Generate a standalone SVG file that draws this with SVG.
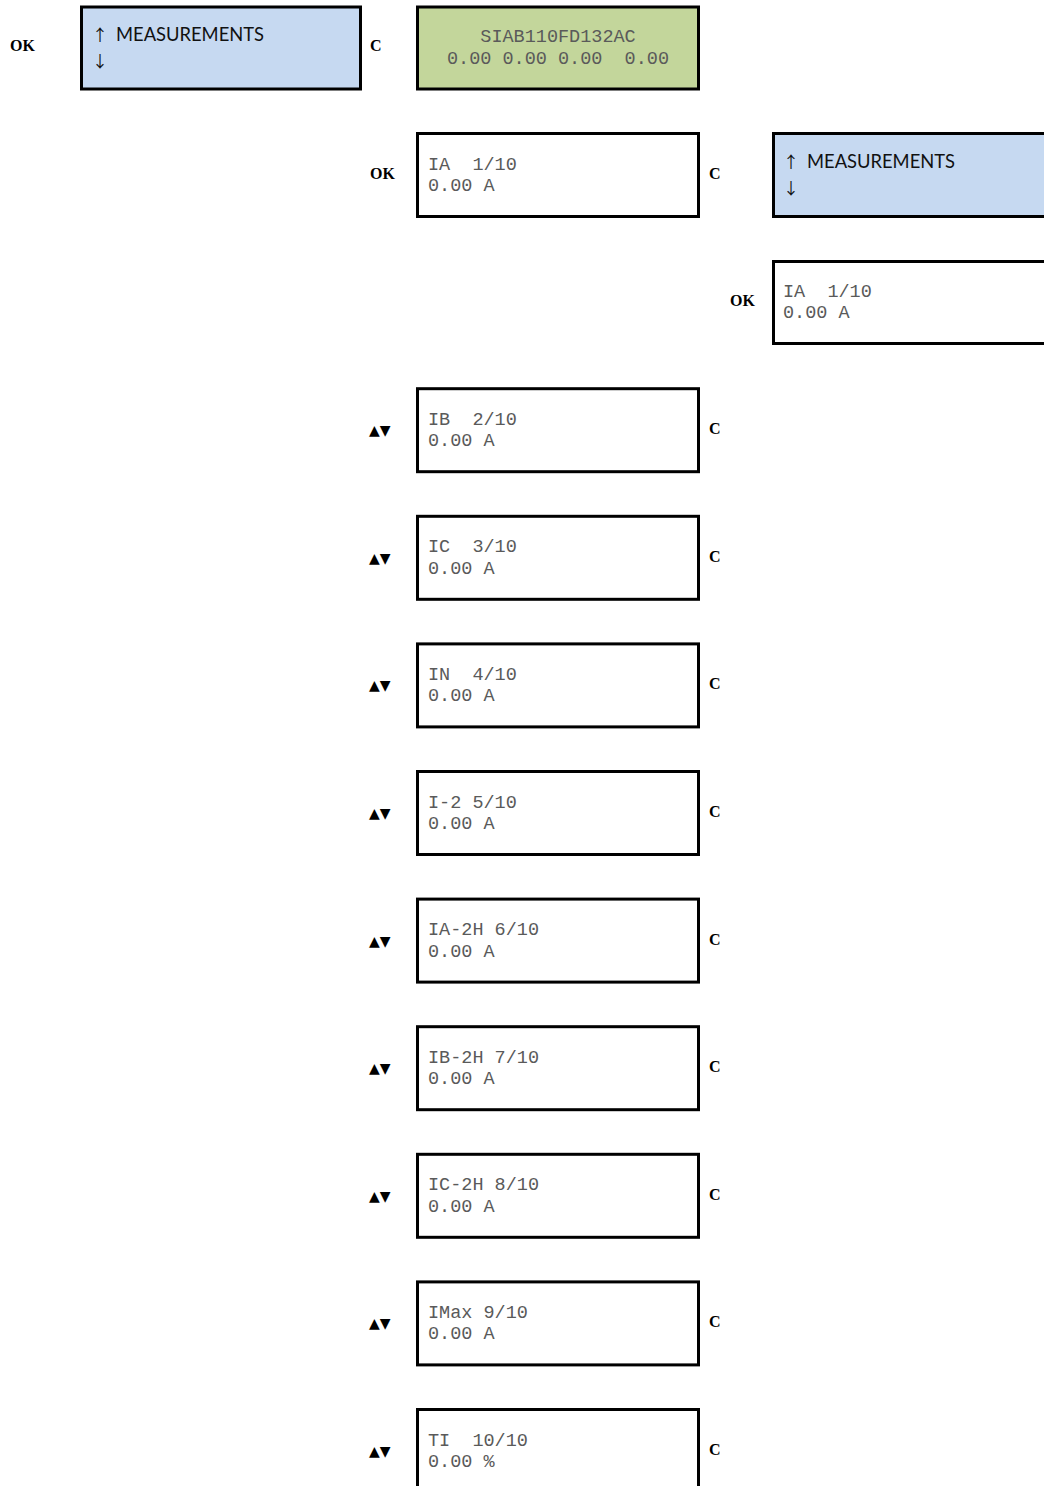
<svg xmlns="http://www.w3.org/2000/svg" width="1044" height="1486" viewBox="0 0 1044 1486">
<style>
.box{fill:#fff;stroke:#000;stroke-width:3}
.blue{fill:#c6d9f1;stroke:#000;stroke-width:3}
.green{fill:#c3d69b;stroke:#000;stroke-width:3}
.lcd{font-family:"Liberation Mono","Courier New",monospace;font-size:18.5px;fill:#5a5a5a}
.menu{font-family:Lato,"Open Sans",sans-serif;font-size:19px;fill:#111}
.arr{font-family:"Noto Sans CJK SC","DejaVu Sans",sans-serif;font-size:16px;fill:#111}
.key{font-family:"Liberation Serif","Times New Roman",serif;font-size:16px;font-weight:bold;fill:#000}
.tri{font-family:"DejaVu Sans",sans-serif;font-size:14px;fill:#000}
</style>
<rect width="1044" height="1486" fill="#fff"/>
<g id="connectors"/>
<g id="main-menu">
<text class="key" x="10" y="51">OK</text>
<rect class="blue" x="81.5" y="7" width="279" height="82"/>
<text class="arr" x="92" y="41">↑</text>
<text class="menu" x="116" y="41" textLength="148" lengthAdjust="spacingAndGlyphs">MEASUREMENTS</text>
<text class="arr" x="92" y="67">↓</text>
<text class="key" x="370" y="51">C</text>
</g>
<g id="home-screen">
<rect class="green" x="417.5" y="7" width="281" height="82"/>
<text class="lcd" x="558" y="42" text-anchor="middle">SIAB110FD132AC</text>
<text class="lcd" x="558" y="64" text-anchor="middle" xml:space="preserve">0.00 0.00 0.00  0.00</text>
</g>
<g id="ia">
<text class="key" x="370" y="179">OK</text>
<rect class="box" x="417.5" y="133.5" width="281" height="83"/>
<text class="lcd" x="428" y="169.5" xml:space="preserve">IA  1/10</text>
<text class="lcd" x="428" y="191">0.00 A</text>
<text class="key" x="709" y="179">C</text>
</g>
<g id="menu-right">
<rect class="blue" x="773.5" y="133.5" width="300" height="83"/>
<text class="arr" x="783" y="168">↑</text>
<text class="menu" x="807" y="168" textLength="148" lengthAdjust="spacingAndGlyphs">MEASUREMENTS</text>
<text class="arr" x="783" y="194">↓</text>
</g>
<g id="ia-right">
<text class="key" x="730" y="306">OK</text>
<rect class="box" x="773.5" y="261.5" width="300" height="82"/>
<text class="lcd" x="783" y="297" xml:space="preserve">IA  1/10</text>
<text class="lcd" x="783" y="318">0.00 A</text>
</g>
<g id="ib" transform="translate(0,255.2)">
<text class="tri" x="369" y="180">▲▼</text>
<rect class="box" x="417.5" y="133.5" width="281" height="83"/>
<text class="lcd" x="428" y="169.5" xml:space="preserve">IB  2/10</text>
<text class="lcd" x="428" y="191">0.00 A</text>
<text class="key" x="709" y="179">C</text>
</g>
<g id="ic" transform="translate(0,382.8)">
<text class="tri" x="369" y="180">▲▼</text>
<rect class="box" x="417.5" y="133.5" width="281" height="83"/>
<text class="lcd" x="428" y="169.5" xml:space="preserve">IC  3/10</text>
<text class="lcd" x="428" y="191">0.00 A</text>
<text class="key" x="709" y="179">C</text>
</g>
<g id="in" transform="translate(0,510.4)">
<text class="tri" x="369" y="180">▲▼</text>
<rect class="box" x="417.5" y="133.5" width="281" height="83"/>
<text class="lcd" x="428" y="169.5" xml:space="preserve">IN  4/10</text>
<text class="lcd" x="428" y="191">0.00 A</text>
<text class="key" x="709" y="179">C</text>
</g>
<g id="i2" transform="translate(0,638)">
<text class="tri" x="369" y="180">▲▼</text>
<rect class="box" x="417.5" y="133.5" width="281" height="83"/>
<text class="lcd" x="428" y="169.5">I-2 5/10</text>
<text class="lcd" x="428" y="191">0.00 A</text>
<text class="key" x="709" y="179">C</text>
</g>
<g id="ia2h" transform="translate(0,765.6)">
<text class="tri" x="369" y="180">▲▼</text>
<rect class="box" x="417.5" y="133.5" width="281" height="83"/>
<text class="lcd" x="428" y="169.5">IA-2H 6/10</text>
<text class="lcd" x="428" y="191">0.00 A</text>
<text class="key" x="709" y="179">C</text>
</g>
<g id="ib2h" transform="translate(0,893.2)">
<text class="tri" x="369" y="180">▲▼</text>
<rect class="box" x="417.5" y="133.5" width="281" height="83"/>
<text class="lcd" x="428" y="169.5">IB-2H 7/10</text>
<text class="lcd" x="428" y="191">0.00 A</text>
<text class="key" x="709" y="179">C</text>
</g>
<g id="ic2h" transform="translate(0,1020.8)">
<text class="tri" x="369" y="180">▲▼</text>
<rect class="box" x="417.5" y="133.5" width="281" height="83"/>
<text class="lcd" x="428" y="169.5">IC-2H 8/10</text>
<text class="lcd" x="428" y="191">0.00 A</text>
<text class="key" x="709" y="179">C</text>
</g>
<g id="imax" transform="translate(0,1148.4)">
<text class="tri" x="369" y="180">▲▼</text>
<rect class="box" x="417.5" y="133.5" width="281" height="83"/>
<text class="lcd" x="428" y="169.5">IMax 9/10</text>
<text class="lcd" x="428" y="191">0.00 A</text>
<text class="key" x="709" y="179">C</text>
</g>
<g id="ti" transform="translate(0,1276)">
<text class="tri" x="369" y="180">▲▼</text>
<rect class="box" x="417.5" y="133.5" width="281" height="100"/>
<text class="lcd" x="428" y="169.5" xml:space="preserve">TI  10/10</text>
<text class="lcd" x="428" y="191">0.00 %</text>
<text class="key" x="709" y="179">C</text>
</g>
</svg>
